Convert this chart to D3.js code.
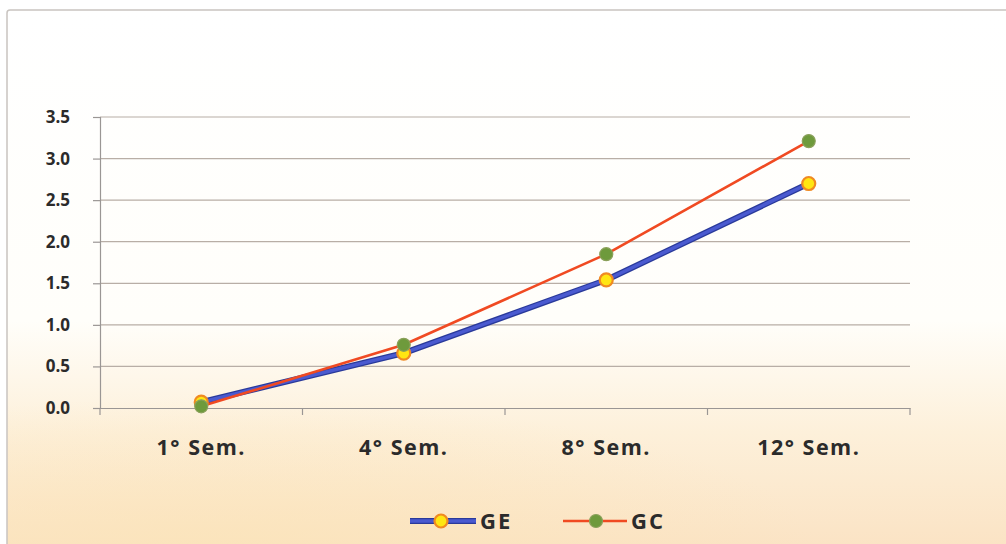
<!DOCTYPE html>
<html>
<head>
<meta charset="utf-8">
<script src="https://cdn.jsdelivr.net/npm/d3@7"></script>
<style>
  html, body { margin: 0; padding: 0; background: #ffffff; }
  svg { display: block; }
</style>
</head>
<body>
<script>
// Semester categories and the two series
const categories = ["1° Sem.", "4° Sem.", "8° Sem.", "12° Sem."];
const seriesGE = [0.07, 0.66, 1.54, 2.70];
const seriesGC = [0.02, 0.76, 1.85, 3.21];
const yTicks = [0, 0.5, 1.0, 1.5, 2.0, 2.5, 3.0, 3.5];
const seriesNames = ["GE", "GC"];

const W = 1006, H = 544;
const margin = { left: 100, right: 96, top: 117, bottom: 136 };
const FONT = "'Open Sans', Lato, sans-serif";
const INK = "#2b2b2b";

const svg = d3.select("body").append("svg")
  .attr("width", W).attr("height", H);

const defs = svg.append("defs");
const bg = defs.append("linearGradient")
  .attr("id", "bgGrad").attr("x1", 0).attr("y1", 0).attr("x2", 0).attr("y2", 1);
bg.append("stop").attr("offset", "0%").attr("stop-color", "#ffffff");
bg.append("stop").attr("offset", "55%").attr("stop-color", "#fffefa");
bg.append("stop").attr("offset", "75%").attr("stop-color", "#fdf0da");
bg.append("stop").attr("offset", "100%").attr("stop-color", "#fae0bf");

const warm = defs.append("radialGradient")
  .attr("id", "warmGrad").attr("cx", "20%").attr("cy", "100%").attr("r", "60%");
warm.append("stop").attr("offset", "0%").attr("stop-color", "#fbe4b8").attr("stop-opacity", 0.7);
warm.append("stop").attr("offset", "100%").attr("stop-color", "#fbe4b8").attr("stop-opacity", 0);

// Chart background and frame
svg.append("rect").attr("x", 0).attr("y", 0).attr("width", W).attr("height", H)
  .attr("fill", "#ffffff");
svg.append("rect").attr("x", 7).attr("y", 10).attr("width", W + 20).attr("height", H + 20)
  .attr("rx", 3).attr("fill", "url(#bgGrad)")
  .attr("stroke", "#c9c4c0").attr("stroke-width", 1.5);
svg.append("rect").attr("x", 8).attr("y", 300).attr("width", W).attr("height", H - 300)
  .attr("fill", "url(#warmGrad)");

const x = d3.scaleBand().domain(categories)
  .range([margin.left, W - margin.right]).paddingInner(0).paddingOuter(0);
const y = d3.scaleLinear().domain([0, 3.5])
  .range([H - margin.bottom, margin.top]);

const cx = d => x(d) + x.bandwidth() / 2;

// Horizontal gridlines
svg.append("g").selectAll("line").data(yTicks.slice(1)).join("line")
  .attr("x1", margin.left).attr("x2", W - margin.right)
  .attr("y1", d => y(d)).attr("y2", d => y(d))
  .attr("stroke", "#b8aea6").attr("stroke-width", 1.2);

// Y axis
const yAxis = svg.append("g")
  .attr("transform", `translate(${margin.left},0)`)
  .call(d3.axisLeft(y).tickValues(yTicks).tickFormat(d3.format(".1f"))
    .tickSizeOuter(0).tickSize(7).tickPadding(23));
yAxis.select(".domain").attr("stroke", "#9a9694").attr("stroke-width", 1.2);
yAxis.selectAll(".tick line").attr("stroke", "#9a9694").attr("stroke-width", 1.2);
yAxis.selectAll("text")
  .attr("font-family", FONT)
  .attr("font-weight", "bold").attr("font-size", 17).attr("fill", INK);

// X axis
const xAxis = svg.append("g")
  .attr("transform", `translate(0,${H - margin.bottom})`)
  .call(d3.axisBottom(x).tickSize(0).tickPadding(32));
xAxis.select(".domain").attr("stroke", "#9a9694").attr("stroke-width", 1.2);
xAxis.selectAll("text")
  .attr("font-family", FONT)
  .attr("font-weight", "bold").attr("font-size", 21.5)
  .attr("letter-spacing", 1.5).attr("fill", INK);
// Category boundary ticks
const bounds = categories.map(c => x(c)).concat([x(categories[categories.length - 1]) + x.bandwidth()]);
svg.append("g").selectAll("line").data(bounds).join("line")
  .attr("x1", d => d).attr("x2", d => d)
  .attr("y1", H - margin.bottom).attr("y2", H - margin.bottom + 7)
  .attr("stroke", "#9a9694").attr("stroke-width", 1.2);

const line = d3.line().x((d, i) => cx(categories[i])).y(d => y(d));

// GE series: thick blue line with yellow markers
svg.append("path").datum(seriesGE).attr("d", line)
  .attr("fill", "none").attr("stroke", "#2a3a9a").attr("stroke-width", 6)
  .attr("stroke-linejoin", "round");
svg.append("path").datum(seriesGE).attr("d", line)
  .attr("fill", "none").attr("stroke", "#4a5ad0").attr("stroke-width", 3.5)
  .attr("stroke-linejoin", "round");

// GC series: thin red line with green markers
svg.append("path").datum(seriesGC).attr("d", line)
  .attr("fill", "none").attr("stroke", "#f04a22").attr("stroke-width", 2.6)
  .attr("stroke-linejoin", "round");

svg.append("g").selectAll("circle").data(seriesGE).join("circle")
  .attr("cx", (d, i) => cx(categories[i])).attr("cy", d => y(d)).attr("r", 6.5)
  .attr("fill", "#ffe612").attr("stroke", "#f08a22").attr("stroke-width", 2.2);
svg.append("g").selectAll("circle").data(seriesGC).join("circle")
  .attr("cx", (d, i) => cx(categories[i])).attr("cy", d => y(d)).attr("r", 6.5)
  .attr("fill", "#6e9a3c").attr("stroke", "#8aa05a").attr("stroke-width", 1.2);

// Legend
const legend = svg.append("g").attr("transform", "translate(0,521)");
const geItem = legend.append("g").attr("transform", "translate(410,0)");
geItem.append("line").attr("x1", 0).attr("x2", 66).attr("y1", 0).attr("y2", 0)
  .attr("stroke", "#2a3a9a").attr("stroke-width", 6);
geItem.append("line").attr("x1", 0).attr("x2", 66).attr("y1", 0).attr("y2", 0)
  .attr("stroke", "#4a5ad0").attr("stroke-width", 3.5);
geItem.append("circle").attr("cx", 31).attr("cy", 0).attr("r", 6.5)
  .attr("fill", "#ffe612").attr("stroke", "#f08a22").attr("stroke-width", 2.2);
geItem.append("text").attr("x", 70).attr("y", 8).text(seriesNames[0])
  .attr("font-family", FONT).attr("font-weight", "bold")
  .attr("font-size", 22).attr("letter-spacing", 2).attr("fill", INK);

const gcItem = legend.append("g").attr("transform", "translate(563,0)");
gcItem.append("line").attr("x1", 0).attr("x2", 64).attr("y1", 0).attr("y2", 0)
  .attr("stroke", "#f04a22").attr("stroke-width", 2.6);
gcItem.append("circle").attr("cx", 33).attr("cy", 0).attr("r", 6.5)
  .attr("fill", "#6e9a3c").attr("stroke", "#8aa05a").attr("stroke-width", 1.2);
gcItem.append("text").attr("x", 68).attr("y", 8).text(seriesNames[1])
  .attr("font-family", FONT).attr("font-weight", "bold")
  .attr("font-size", 22).attr("letter-spacing", 2).attr("fill", INK);
</script>
</body>
</html>
